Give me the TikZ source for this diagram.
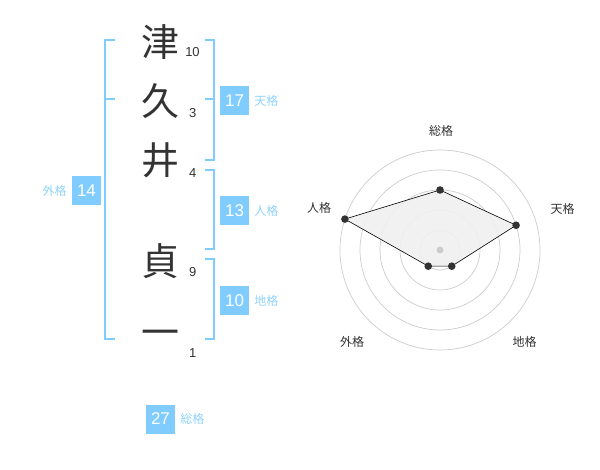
\documentclass[tikz,border=0pt]{standalone}
\usepackage{fontspec}
\setmainfont{Liberation Sans}
\newfontfamily\jpfont{Noto Sans CJK JP}
\usetikzlibrary{calc}
\usetikzlibrary{positioning}
\definecolor{kakuBlue}{HTML}{80CCFF}
\definecolor{kakuText}{HTML}{8FD3FA}
\definecolor{inkGray}{HTML}{333333}
\definecolor{ringGray}{HTML}{CCCCCC}
\definecolor{areaGray}{HTML}{F0F0F0}
\tikzset{
	bracket/.style={draw=kakuBlue, line width=2pt},
	kakubox/.style={fill=kakuBlue, text=white, minimum size=29pt, inner sep=0pt, font=\fontsize{17}{17}\selectfont},
	kakulabel/.style={text=kakuText, inner sep=0pt, font=\jpfont\fontsize{12}{12}\selectfont},
	moji/.style={text=inkGray, inner sep=0pt, font=\jpfont\fontsize{38}{38}\selectfont},
	kakusu/.style={text=inkGray, inner sep=0pt, font=\fontsize{13}{13}\selectfont},
	radarlabel/.style={text=inkGray, inner sep=0pt, font=\jpfont\fontsize{12}{12}\selectfont},
	ring/.style={draw=ringGray, line width=0.7pt}
}
\newcommand{\drawBracket}[3]{
	\draw[bracket] let
		\p1 = (#1), \p2 = (#2)
		in
		(#1) -- (\x1+#3, \y1) -- (\x1+#3, \y2) -- (#2);
}
\newcommand{\drawKaku}[5]{
	\node[kakubox] (#1) at (#2) {#3};
	\node[kakulabel, #5=5pt of #1] {#4};
}

\begin{document}
\begin{tikzpicture}[x=1pt, y=-1pt]
		\useasboundingbox (0,0) rectangle (600,470);

		\node[moji] (M1) at (160.5,42) {津};
		\node[moji] (M2) at (160.5,101) {久};
		\node[moji] (M3) at (160.5,160) {井};
		\node[moji] (M4) at (160.5,261) {貞};
		\node[moji] (M5) at (160.5,338) {一};

		\node[kakusu] (N1) at (192.5,52.5) {10};
		\node[kakusu] (N2) at (192.7,113) {3};
		\node[kakusu] (N3) at (192.7,173) {4};
		\node[kakusu] (N4) at (192.7,272) {9};
		\node[kakusu] (N5) at (192.7,353) {1};

		\coordinate (TEN_T) at (205,40);
		\coordinate (TEN_B) at (205,160);
		\coordinate (JIN_T) at (205,170);
		\coordinate (JIN_B) at (205,249);
		\coordinate (CHI_T) at (205,259);
		\coordinate (CHI_B) at (205,339);
		\coordinate (GAI_T) at (115,40);
		\coordinate (GAI_B) at (115,339);

		\drawBracket{TEN_T}{TEN_B}{9pt}
		\drawBracket{JIN_T}{JIN_B}{9pt}
		\drawBracket{CHI_T}{CHI_B}{9pt}
		\drawBracket{GAI_T}{GAI_B}{-10pt}
		\draw[bracket] (205,99.3) -- (214,99.3);
		\draw[bracket] (105,99.3) -- (115,99.3);

		\drawKaku{TEN}{234.5,100.5}{17}{天格}{right}
		\drawKaku{JIN}{234.5,211}{13}{人格}{right}
		\drawKaku{CHI}{234.5,301}{10}{地格}{right}
		\drawKaku{GAI}{86.5,190.5}{14}{外格}{left}
		\drawKaku{SOU}{160.5,419}{27}{総格}{right}

		\coordinate (C) at (440,250);
		\foreach \r in {20,40,60,80,100}
			\draw[ring] (C) circle (\r pt);
		\foreach \a/\v/\n in {90/3/R1, 18/4/R2, -54/1/R3, -126/1/R4, 162/5/R5}
			\coordinate (\n) at ($(C)+(\a:{20*\v pt})$);
		\draw[fill=areaGray, fill opacity=0.9, draw=black, line width=0.6pt]
			(R1) -- (R2) -- (R3) -- (R4) -- (R5) -- cycle;
		\fill[ringGray] (C) circle (3.5pt);
		\foreach \n in {R1,R2,R3,R4,R5}
			\fill[inkGray] (\n) circle (3.8pt);

		\node[radarlabel] (L1) at (441,130.5) {総格};
		\node[radarlabel] (L2) at (562.5,208.5) {天格};
		\node[radarlabel] (L3) at (524.5,342) {地格};
		\node[radarlabel] (L4) at (352,342) {外格};
		\node[radarlabel] (L5) at (319,208) {人格};
	\end{tikzpicture}
\end{document}
